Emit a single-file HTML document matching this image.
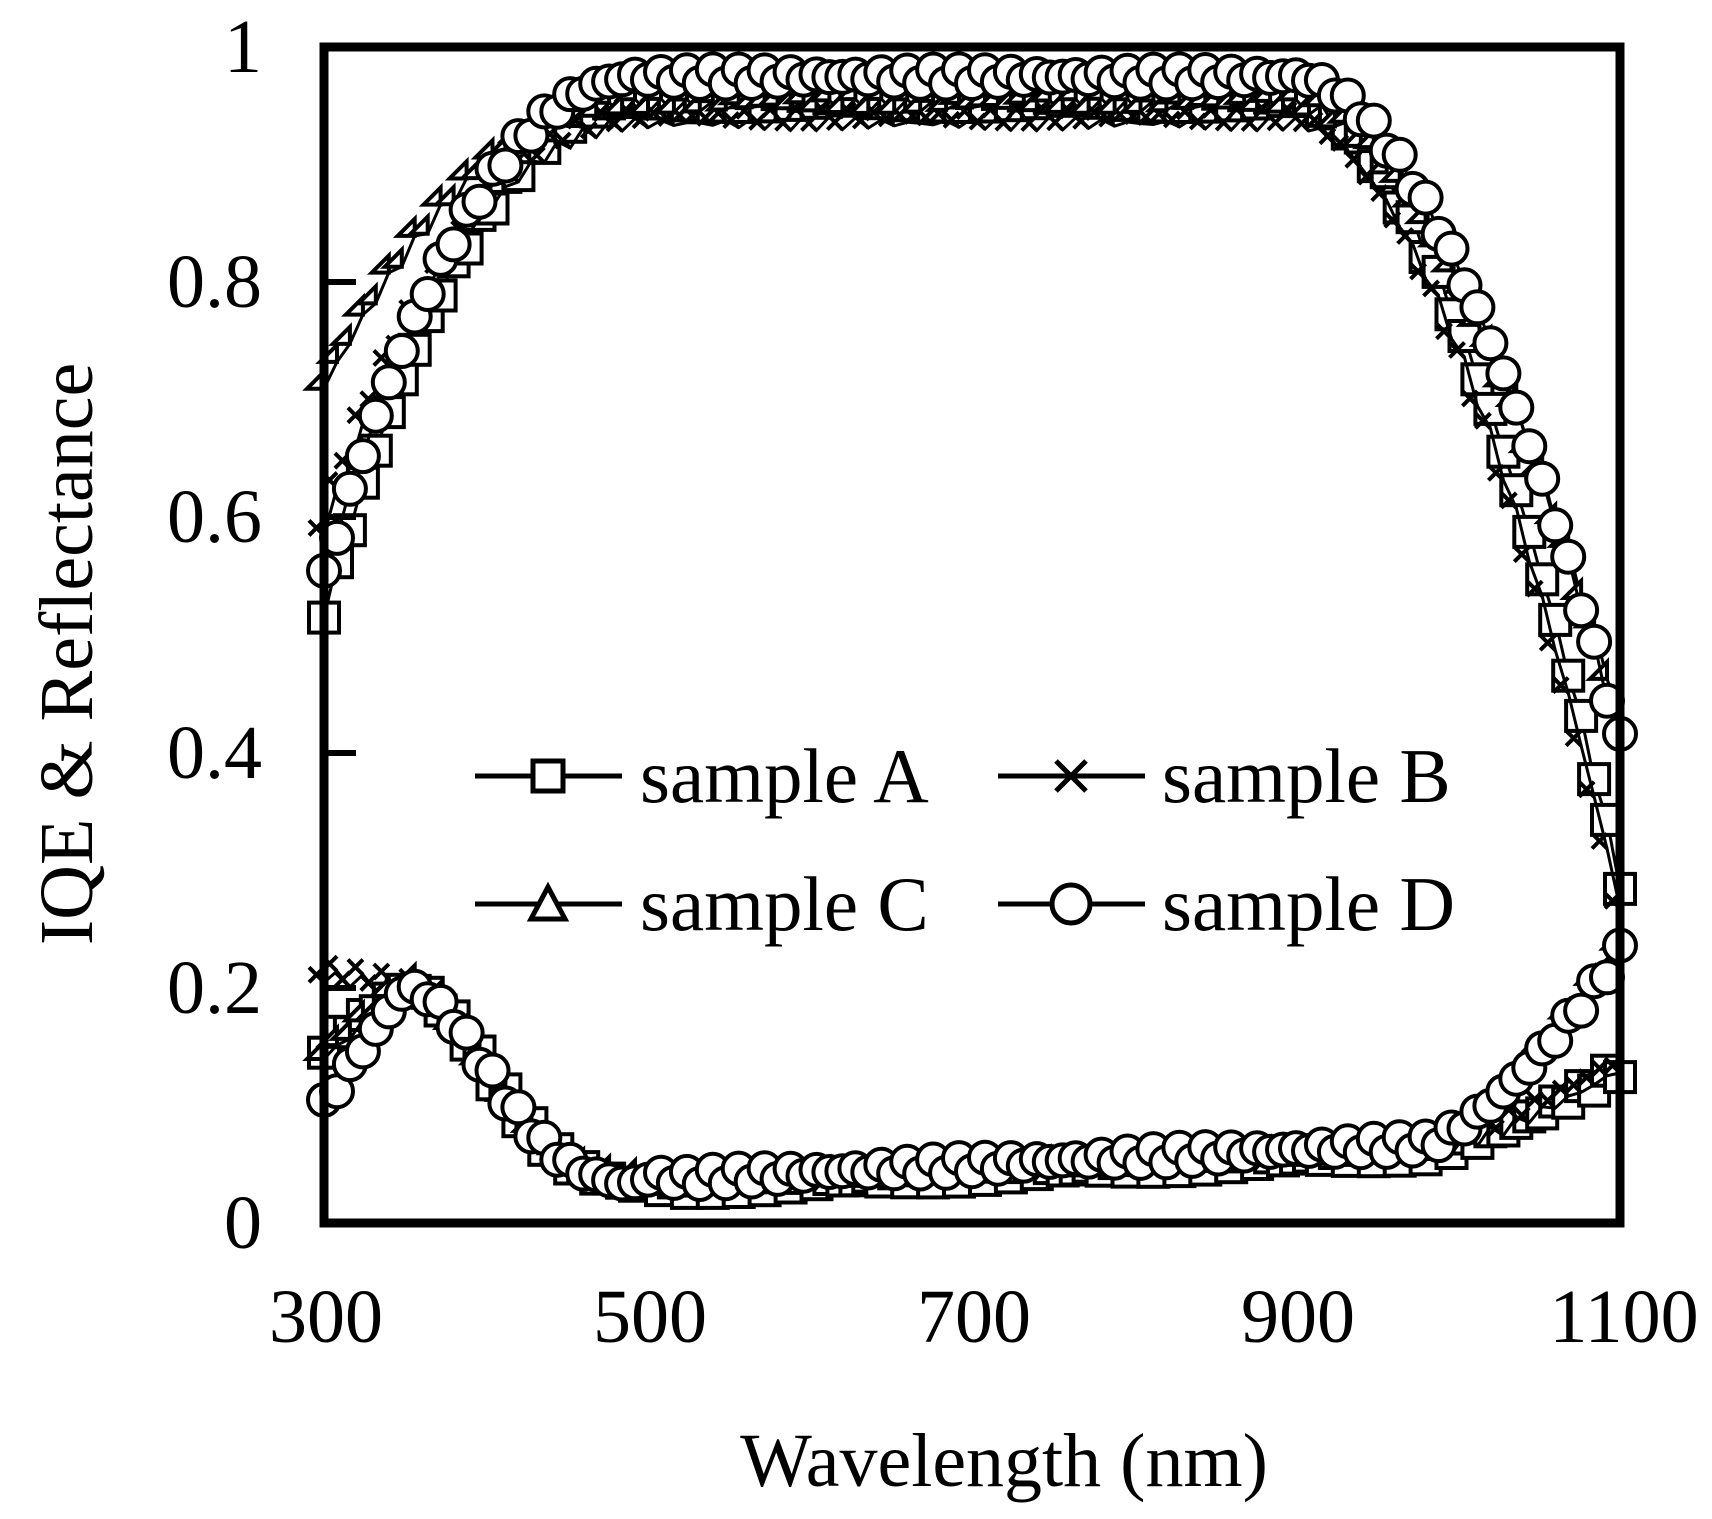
<!DOCTYPE html>
<html><head><meta charset="utf-8"><style>
html,body{margin:0;padding:0;background:#fff;}
svg{display:block;}
text{font-family:"Liberation Serif",serif;fill:#000;}
</style></head><body>
<svg id="s" width="1712" height="1519" viewBox="0 0 1712 1519" xmlns="http://www.w3.org/2000/svg">
<g id="data"></g>
<rect x="324" y="47" width="1296" height="1176" fill="none" stroke="#000" stroke-width="9"/>
<g stroke="#000" stroke-width="6">
<line x1="324" y1="282" x2="356" y2="282"/><line x1="324" y1="517" x2="356" y2="517"/>
<line x1="324" y1="753" x2="356" y2="753"/><line x1="324" y1="988" x2="356" y2="988"/>
</g>
<g font-size="76" text-anchor="end">
<text x="262" y="72">1</text><text x="262" y="307">0.8</text><text x="262" y="542">0.6</text>
<text x="262" y="778">0.4</text><text x="262" y="1013">0.2</text><text x="262" y="1248">0</text>
</g>
<g font-size="76" text-anchor="middle">
<text x="326" y="1342">300</text><text x="650" y="1342">500</text><text x="974" y="1342">700</text>
<text x="1298" y="1342">900</text><text x="1624" y="1342">1100</text>
</g>
<text x="1004" y="1486" font-size="76" text-anchor="middle">Wavelength (nm)</text>
<text transform="translate(92,654) rotate(-90)" font-size="76" text-anchor="middle">IQE &amp; Reflectance</text>
<g id="leg" stroke="#000" stroke-width="5" fill="#fff"></g>
<g font-size="77">
<text x="640" y="802">sample A</text><text x="1162" y="802">sample B</text>
<text x="640" y="930">sample C</text><text x="1162" y="930">sample D</text>
</g>
</svg>
<script>
const X=w=>324+1.62*(w-300), Y=v=>1223-1176*v;
function mk(t,x,y){
 const r=15;
 if(t==0)return `<rect x="${x-r}" y="${y-r}" width="${2*r}" height="${2*r}"/>`;
 if(t==1)return `<path d="M${x-r} ${y-r}L${x+r} ${y+r}M${x-r} ${y+r}L${x+r} ${y-r}"/>`;
 if(t==2)return `<path d="M${x} ${y-r-2}L${x+r+2} ${y+r}L${x-r-2} ${y+r}Z"/>`;
 return `<circle cx="${x}" cy="${y}" r="${r+1}"/>`;
}
function iqe(w,k){
 const start=[0.52,0.59,0.71,0.55][k], top=[0.955,0.935,0.95,0.975][k], end=[0.29,0.27,0.43,0.41][k];
 let v;
 if(w<500){const t=(w-300)/200; v=top-(top-start)*Math.pow(1-t,2.2);} else v=top;
 const s0=900;
 if(w>s0){const t=(w-s0)/(1100-s0); v=v-(v-end)*Math.pow(t,1.8);}
 return v;
}
function refl(w,k){
 let v;
 const s=[0.15,0.21,0.14,0.10][k];
 if(w<350)v=s+(0.2-s)*(w-300)/50;
 else if(w<520)v=0.03+0.17*Math.exp(-Math.pow((w-350)/70,2));
 else v=0.03+0.03*(w-520)/460;
 if(k==3&&w>=500)v+=0.008;
 if(w>980){const e=[0.13,0.13,0.23,0.23][k]; const t=(w-980)/120; v=v+(e-v)*Math.pow(t,1.5);}
 return v;
}
let out="";
for(let k=0;k<4;k++){
 for(const f of [iqe,refl]){
  let pts=[],m="";
  for(let w=300;w<=1100;w+=8){
   const x=X(w),y=Y(f(w,k)+(Math.sin(w*0.37+k)*0.006));
   pts.push(x.toFixed(1)+","+y.toFixed(1)); m+=mk(k,x.toFixed(1),y.toFixed(1));
  }
  out+=`<polyline points="${pts.join(" ")}" fill="none" stroke="#000" stroke-width="3"/><g stroke="#000" stroke-width="4" fill="#fff">${m}</g>`;
 }
}
document.getElementById("data").innerHTML=out;
let lg="";
[[475,776,0],[998,776,1],[475,904,2],[998,904,3]].forEach(([x,y,t])=>{
 lg+=`<line x1="${x}" y1="${y}" x2="${x+147}" y2="${y}"/>`+mk(t,x+73,y).replace(/r="16"/,'r="19"').replace(/15/g,"19");
});
document.getElementById("leg").innerHTML=lg;
</script>
</body></html>
